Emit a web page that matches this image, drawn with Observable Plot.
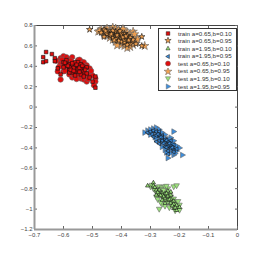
<!DOCTYPE html>
<html><head><meta charset="utf-8">
<script src="https://cdn.jsdelivr.net/npm/d3@7"></script>
<script src="https://cdn.jsdelivr.net/npm/@observablehq/plot@0.6"></script>
<style>
html,body{margin:0;padding:0;background:#fff;}
#wrap{position:relative;width:262px;height:265px;font-family:"Liberation Sans",Arial,sans-serif;}
#legend{position:absolute;left:158px;top:28px;width:79px;height:63px;border:1.2px solid #333;background:#fff;box-sizing:border-box;padding-top:0.5px;}
#legend .row{display:flex;align-items:center;height:7.6px;font-size:6.2px;color:#333;line-height:7.6px;white-space:nowrap;}
#legend svg{margin-left:5px;margin-right:6px;}
</style></head>
<body><div id="wrap"><div id="chart"></div><div id="legend"></div></div>
<script>
const xTicks = [-0.7,-0.6,-0.5,-0.4,-0.3,-0.2,-0.1,0];
const yTicks = [0.8,0.6,0.4,0.2,0,-0.2,-0.4,-0.6,-0.8,-1,-1.2];
const seriesNames = ["train a=0.65,b=0.10","train a=0.65,b=0.95","train a=1.95,b=0.10","train a=1.95,b=0.95","test a=0.65,b=0.10","test a=0.65,b=0.95","test a=1.95,b=0.10","test a=1.95,b=0.95"];
const colors = ["#e00d0d","#f0a050","#9be27a","#3d8ede"];

const trainRed = [[-0.66,0.54],[-0.67,0.49],[-0.67,0.44],[-0.66,0.45],[-0.64,0.52],[-0.63,0.48],[-0.63,0.45],[-0.49,0.19],[-0.49,0.3],[-0.62,0.38],[-0.61,0.32],[-0.5,0.25],[-0.58,0.42],[-0.57,0.41],[-0.56,0.4],[-0.55,0.39],[-0.56,0.37],[-0.57,0.38],[-0.58,0.39],[-0.55,0.42],[-0.54,0.4],[-0.53,0.38],[-0.54,0.37],[-0.55,0.35],[-0.56,0.35],[-0.57,0.34],[-0.58,0.36],[-0.59,0.41],[-0.6,0.44],[-0.59,0.46],[-0.56,0.44],[-0.55,0.44],[-0.54,0.42],[-0.52,0.39],[-0.53,0.35],[-0.52,0.33],[-0.54,0.32],[-0.56,0.31],[-0.55,0.37],[-0.57,0.43],[-0.6,0.39],[-0.51,0.29],[-0.53,0.3],[-0.58,0.34],[-0.565,0.385],[-0.555,0.415],[-0.545,0.385],[-0.575,0.365],[-0.535,0.405],[-0.585,0.405],[-0.565,0.355],[-0.545,0.345],[-0.595,0.435],[-0.525,0.365]];
const testRed = [[-0.61,0.48],[-0.6,0.5],[-0.59,0.49],[-0.58,0.47],[-0.57,0.49],[-0.55,0.46],[-0.54,0.45],[-0.53,0.44],[-0.52,0.41],[-0.61,0.43],[-0.6,0.41],[-0.59,0.38],[-0.6,0.35],[-0.61,0.27],[-0.58,0.32],[-0.57,0.36],[-0.56,0.33],[-0.55,0.3],[-0.54,0.28],[-0.53,0.27],[-0.52,0.3],[-0.51,0.33],[-0.5,0.31],[-0.49,0.28],[-0.49,0.25],[-0.52,0.25],[-0.55,0.4],[-0.56,0.42],[-0.58,0.4],[-0.62,0.35],[-0.57,0.29],[-0.53,0.36],[-0.51,0.38],[-0.54,0.35],[-0.59,0.44],[-0.605,0.465],[-0.575,0.455],[-0.545,0.425],[-0.525,0.395],[-0.595,0.355],[-0.565,0.315],[-0.535,0.325],[-0.515,0.275],[-0.585,0.425],[-0.615,0.395],[-0.555,0.275],[-0.495,0.215],[-0.625,0.455],[-0.545,0.465],[-0.505,0.355]];
const trainOrange = [[-0.51,0.76],[-0.33,0.69],[-0.33,0.6],[-0.46,0.76],[-0.45,0.73],[-0.44,0.71],[-0.43,0.7],[-0.42,0.69],[-0.41,0.68],[-0.4,0.7],[-0.39,0.72],[-0.38,0.7],[-0.37,0.68],[-0.38,0.64],[-0.39,0.63],[-0.4,0.64],[-0.41,0.65],[-0.42,0.67],[-0.43,0.68],[-0.44,0.7],[-0.45,0.72],[-0.47,0.73],[-0.42,0.74],[-0.41,0.73],[-0.4,0.72],[-0.39,0.66],[-0.37,0.62],[-0.36,0.66],[-0.38,0.61],[-0.43,0.75],[-0.46,0.69],[-0.35,0.62],[-0.435,0.715],[-0.415,0.705],[-0.395,0.685],[-0.425,0.655],[-0.375,0.655],[-0.455,0.745],[-0.405,0.745],[-0.385,0.695]];
const testOrange = [[-0.47,0.76],[-0.46,0.74],[-0.45,0.77],[-0.44,0.75],[-0.43,0.78],[-0.42,0.77],[-0.41,0.76],[-0.4,0.74],[-0.39,0.75],[-0.38,0.73],[-0.37,0.72],[-0.36,0.74],[-0.35,0.68],[-0.35,0.64],[-0.46,0.71],[-0.45,0.7],[-0.44,0.68],[-0.43,0.66],[-0.42,0.64],[-0.41,0.62],[-0.4,0.61],[-0.39,0.6],[-0.38,0.58],[-0.37,0.59],[-0.36,0.61],[-0.37,0.65],[-0.38,0.67],[-0.39,0.69],[-0.4,0.67],[-0.41,0.7],[-0.42,0.72],[-0.43,0.72],[-0.44,0.73],[-0.48,0.74],[-0.36,0.7],[-0.32,0.6],[-0.455,0.755],[-0.435,0.735],[-0.415,0.745],[-0.395,0.715],[-0.375,0.695],[-0.425,0.695],[-0.405,0.655],[-0.385,0.625],[-0.365,0.635],[-0.445,0.715],[-0.395,0.765],[-0.355,0.715],[-0.475,0.745],[-0.415,0.605],[-0.345,0.665]];
const trainGreen = [[-0.29,-0.74],[-0.31,-0.77],[-0.29,-0.77],[-0.28,-0.81],[-0.27,-0.81],[-0.26,-0.84],[-0.25,-0.85],[-0.26,-0.86],[-0.24,-0.87],[-0.23,-0.86],[-0.25,-0.89],[-0.24,-0.91],[-0.23,-0.9],[-0.22,-0.92],[-0.23,-0.94],[-0.22,-0.95],[-0.21,-0.96],[-0.21,-1.01],[-0.27,-0.85],[-0.28,-0.86],[-0.26,-0.91],[-0.24,-0.82],[-0.23,-0.83],[-0.22,-0.99],[-0.2,-0.98],[-0.25,-0.94],[-0.275,-0.835],[-0.255,-0.875],[-0.245,-0.845],[-0.235,-0.905],[-0.225,-0.965],[-0.265,-0.865],[-0.215,-0.985],[-0.285,-0.785]];
const testGreen = [[-0.3,-0.78],[-0.29,-0.8],[-0.28,-0.79],[-0.27,-0.78],[-0.26,-0.79],[-0.25,-0.78],[-0.24,-0.8],[-0.22,-0.78],[-0.21,-0.77],[-0.28,-0.83],[-0.27,-0.84],[-0.26,-0.82],[-0.25,-0.83],[-0.24,-0.85],[-0.27,-0.87],[-0.26,-0.88],[-0.25,-0.87],[-0.24,-0.89],[-0.23,-0.88],[-0.22,-0.9],[-0.25,-0.91],[-0.24,-0.93],[-0.23,-0.92],[-0.22,-0.94],[-0.21,-0.93],[-0.23,-0.96],[-0.22,-0.97],[-0.21,-0.99],[-0.2,-1.01],[-0.25,-0.97],[-0.27,-1.0],[-0.28,-0.88],[-0.26,-0.95],[-0.2,-0.96],[-0.285,-0.815],[-0.265,-0.805],[-0.255,-0.855],[-0.235,-0.865],[-0.245,-0.915],[-0.225,-0.925],[-0.215,-0.955],[-0.235,-0.985],[-0.275,-0.905],[-0.205,-0.925],[-0.295,-0.765],[-0.245,-0.775],[-0.265,-0.935],[-0.215,-1.015],[-0.255,-0.815]];
const trainBlue = [[-0.31,-0.25],[-0.3,-0.24],[-0.29,-0.23],[-0.28,-0.24],[-0.27,-0.24],[-0.28,-0.28],[-0.29,-0.29],[-0.27,-0.28],[-0.26,-0.28],[-0.26,-0.3],[-0.25,-0.32],[-0.27,-0.33],[-0.26,-0.33],[-0.25,-0.34],[-0.24,-0.34],[-0.23,-0.33],[-0.24,-0.38],[-0.25,-0.39],[-0.23,-0.38],[-0.22,-0.37],[-0.23,-0.4],[-0.22,-0.42],[-0.22,-0.44],[-0.24,-0.43],[-0.24,-0.46],[-0.28,-0.34],[-0.27,-0.36],[-0.21,-0.41],[-0.295,-0.265],[-0.275,-0.265],[-0.265,-0.295],[-0.245,-0.325],[-0.235,-0.355],[-0.245,-0.395],[-0.225,-0.395],[-0.255,-0.355]];
const testBlue = [[-0.32,-0.25],[-0.31,-0.23],[-0.3,-0.22],[-0.29,-0.21],[-0.28,-0.2],[-0.27,-0.22],[-0.29,-0.25],[-0.3,-0.27],[-0.28,-0.27],[-0.27,-0.26],[-0.26,-0.25],[-0.25,-0.27],[-0.27,-0.3],[-0.28,-0.31],[-0.26,-0.31],[-0.25,-0.3],[-0.24,-0.32],[-0.23,-0.3],[-0.22,-0.24],[-0.26,-0.35],[-0.25,-0.37],[-0.24,-0.36],[-0.23,-0.35],[-0.22,-0.33],[-0.24,-0.4],[-0.23,-0.42],[-0.22,-0.4],[-0.21,-0.38],[-0.21,-0.43],[-0.2,-0.4],[-0.19,-0.47],[-0.23,-0.45],[-0.22,-0.47],[-0.24,-0.5],[-0.25,-0.42],[-0.26,-0.39],[-0.305,-0.245],[-0.285,-0.225],[-0.275,-0.245],[-0.265,-0.275],[-0.255,-0.295],[-0.245,-0.345],[-0.235,-0.375],[-0.225,-0.415],[-0.215,-0.455],[-0.265,-0.325],[-0.235,-0.315],[-0.285,-0.295],[-0.255,-0.355],[-0.245,-0.445],[-0.225,-0.355]];

function tri(dir){
  return {draw(ctx, size){
    const r = Math.sqrt(size/Math.PI)*1.15;
    const pts = {up:[[0,-r],[r*0.9,r*0.6],[-r*0.9,r*0.6]],
                 down:[[0,r],[r*0.9,-r*0.6],[-r*0.9,-r*0.6]],
                 left:[[-r,0],[r*0.6,-r*0.9],[r*0.6,r*0.9]],
                 right:[[r,0],[-r*0.6,-r*0.9],[-r*0.6,r*0.9]]}[dir];
    ctx.moveTo(pts[0][0],pts[0][1]);ctx.lineTo(pts[1][0],pts[1][1]);ctx.lineTo(pts[2][0],pts[2][1]);ctx.closePath();
  }};
}
const symbols = ["square","star",tri("up"),tri("left"),"circle","star",tri("down"),tri("right")];
const fills = [colors[0],colors[1],colors[2],colors[3],colors[0],colors[1],colors[2],colors[3]];
const trainSets = [trainRed,trainOrange,trainGreen,trainBlue];
const testSets = [testRed,testOrange,testGreen,testBlue];

const marks = [];
testSets.forEach((d,i)=>marks.push(Plot.dot(d,{x:p=>p[0],y:p=>p[1],symbol:()=>symbols[4+i],fill:fills[4+i],stroke:"#666",strokeWidth:0.6,r:2.7})));
trainSets.forEach((d,i)=>marks.push(Plot.dot(d,{x:p=>p[0],y:p=>p[1],symbol:()=>symbols[i],fill:fills[i],stroke:"#111",strokeWidth:0.6,r:2.0})));

const fmt = d => (d===0 ? "0" : String(+d.toFixed(1))).replace("-","\u2212");

const plot = Plot.plot({
  width:262, height:265,
  marginLeft:34, marginRight:25, marginTop:25, marginBottom:36,
  style:{fontFamily:"'Liberation Sans',Arial,sans-serif", fontSize:"6px", color:"#444", background:"#fff"},
  x:{domain:[-0.7,0]},
  y:{domain:[-1.2,0.8]},
  symbol:{type:"identity"},
  marks:[
    Plot.frame({stroke:"#444", strokeWidth:1}),
    Plot.axisX(xTicks,{anchor:"bottom", tickSize:-3, tickPadding:6, tickFormat:fmt, label:null, stroke:"#666"}),
    Plot.axisX(xTicks,{anchor:"top", tickSize:-3, tickFormat:()=>"", label:null, stroke:"#666"}),
    Plot.axisY(yTicks,{anchor:"left", tickSize:-3, tickPadding:5, tickFormat:fmt, label:null, stroke:"#666"}),
    Plot.axisY(yTicks,{anchor:"right", tickSize:-3, tickFormat:()=>"", label:null, stroke:"#666"}),
    ...marks,
    Plot.ruleX([-0.7],{stroke:"#999",strokeWidth:2}),
    Plot.ruleY([-1.2],{stroke:"#999",strokeWidth:2})
  ]
});
document.getElementById("chart").appendChild(plot);

const leg = d3.select("#legend");
seriesNames.forEach((name,i)=>{
  const row = leg.append("div").attr("class","row");
  const svg = row.append("svg").attr("width",8).attr("height",7);
  const isTest = i>=4;
  const sym = symbols[i];
  const r = isTest?2.5:2.0;
  const symType = typeof sym==="string" ? {square:d3.symbolSquare,star:d3.symbolStar,circle:d3.symbolCircle}[sym] : sym;
  svg.append("path").attr("transform","translate(4,3.5)")
    .attr("d", d3.symbol(symType, Math.PI*r*r)())
    .attr("fill", fills[i]).attr("stroke", isTest?"#666":"#111").attr("stroke-width",0.5);
  row.append("span").text(name);
});
</script></body></html>
